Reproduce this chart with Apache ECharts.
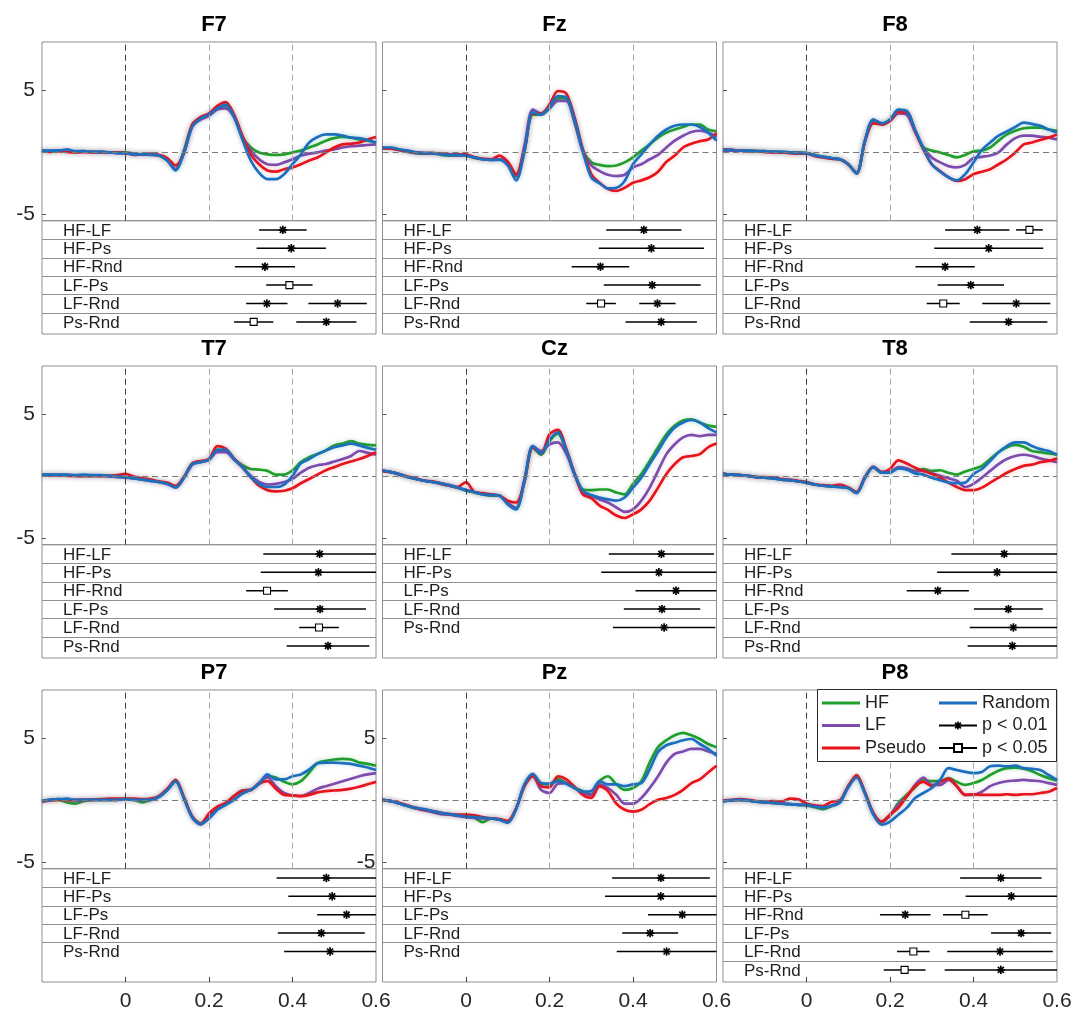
<!DOCTYPE html>
<html>
<head>
<meta charset="utf-8">
<script src="https://cdn.jsdelivr.net/npm/echarts@6/dist/echarts.min.js"></script>
<style>
  html, body { margin: 0; padding: 0; background: #fff; }
  #chart { width: 1077px; height: 1018px; }
</style>
</head>
<body>
<div id="chart"></div>
<script>
// Sample times (s)
const times = [-0.2, -0.18, -0.16, -0.14, -0.12, -0.1, -0.08, -0.06, -0.04, -0.02, 0,
  0.02, 0.04, 0.06, 0.08, 0.1, 0.12, 0.14, 0.16, 0.18, 0.2, 0.22, 0.24, 0.26, 0.28,
  0.3, 0.32, 0.34, 0.36, 0.38, 0.4, 0.42, 0.44, 0.46, 0.48, 0.5, 0.52, 0.54, 0.56, 0.58, 0.6];

// Grand-average ERPs (µV) per electrode and condition
const F7_HF  = [0.1,0.05,0.1,0.05,0,0.05,0,0,-0.05,-0.05,-0.05, -0.15,-0.2,-0.2,-0.3,-0.7,-1.4,0.1,2.2,2.7,3.0,3.5,3.7,2.9,1.2, 0.35,-0.05,-0.2,-0.25,-0.2,-0.05,0.1,0.35,0.6,0.9,1.1,1.2,1.15,1.0,0.9,0.75];
const F7_LF  = [0.05,0.05,0.1,0.05,0,0,0,-0.05,-0.05,-0.1,-0.1, -0.25,-0.2,-0.25,-0.3,-0.7,-1.4,0.0,2.1,2.6,2.9,3.4,3.5,2.8,1.2, 0.1,-0.6,-1.0,-1.05,-0.85,-0.6,-0.3,-0.15,-0.05,0.1,0.2,0.35,0.45,0.5,0.55,0.6];
const F7_Ps  = [0.1,0.0,0.05,0,-0.05,0,-0.05,0,-0.05,-0.05,-0.1, -0.2,-0.2,-0.15,-0.25,-0.5,-1.1,-0.1,2.2,2.8,3.1,3.7,4.0,3.0,1.3, -0.2,-1.0,-1.5,-1.6,-1.4,-1.25,-1.0,-0.7,-0.45,-0.05,0.35,0.6,0.65,0.75,1.0,1.2];
const F7_Rnd = [0.1,0.1,0.1,0.2,0.05,0.05,0,0,-0.05,-0.1,-0.1, -0.2,-0.2,-0.2,-0.3,-0.7,-1.5,-0.1,2.0,2.7,3.0,3.5,3.8,2.8,1.0, -0.7,-1.7,-2.2,-2.2,-1.8,-1.0,-0.2,0.75,1.2,1.4,1.4,1.3,1.15,1.1,0.95,0.75];

const Fz_HF  = [0.3,0.3,0.15,0.0,-0.1,-0.15,-0.1,-0.25,-0.3,-0.3,-0.3, -0.5,-0.6,-0.6,-0.6,-1.0,-2.0,0.3,3.0,3.0,3.5,4.3,4.3,2.4,0.1, -0.85,-1.05,-1.15,-1.1,-0.85,-0.45,0.1,0.6,1.15,1.55,1.8,2.0,2.2,2.2,1.8,1.65];
const Fz_LF  = [0.25,0.3,0.15,0.05,-0.1,-0.1,-0.15,-0.2,-0.25,-0.3,-0.25, -0.45,-0.6,-0.65,-0.6,-0.9,-1.9,0.5,3.4,3.1,3.5,4.1,4.1,2.4,0.0, -1.1,-1.55,-1.85,-1.95,-1.85,-1.25,-1.0,-0.6,-0.25,0.35,0.9,1.3,1.6,1.7,1.55,1.2];
const Fz_Ps  = [0.3,0.25,0.15,0.05,-0.05,-0.1,-0.1,-0.15,-0.2,-0.2,-0.2, -0.45,-0.55,-0.6,-0.3,-0.8,-1.8,0.1,3.1,3.1,3.8,4.9,4.7,2.8,0.2, -1.8,-2.5,-3.0,-3.15,-2.9,-2.5,-2.3,-2.05,-1.6,-0.8,-0.3,0.35,0.65,0.85,1.0,1.5];
const Fz_Rnd = [0.35,0.35,0.2,0.1,-0.05,-0.1,-0.1,-0.2,-0.25,-0.25,-0.3, -0.45,-0.6,-0.65,-0.65,-1.1,-2.3,0.0,3.2,3.0,3.6,4.5,4.4,2.6,0.0, -2.05,-2.55,-2.95,-2.9,-2.35,-1.0,-0.2,0.6,1.3,1.8,2.1,2.2,2.2,2.0,1.55,0.9];

const F8_HF  = [0.15,0.15,0.1,0.1,0.05,0.05,0,0,-0.05,-0.05,-0.1, -0.25,-0.4,-0.5,-0.6,-1.0,-1.7,0.9,2.5,2.2,2.6,3.3,3.2,1.7,0.35, 0.1,-0.05,-0.25,-0.45,-0.25,0.05,0.1,0.35,0.9,1.4,1.7,1.9,1.95,1.95,1.8,1.7];
const F8_LF  = [0.1,0.1,0.1,0.05,0.05,0,0,-0.05,-0.05,-0.1,-0.1, -0.3,-0.4,-0.55,-0.6,-1.0,-1.7,0.9,2.6,2.3,2.5,3.1,3.0,1.6,0.3, -0.45,-0.85,-1.15,-1.25,-1.05,-0.5,-0.4,-0.3,-0.05,0.6,1.1,1.3,1.3,1.2,1.15,1.0];
const F8_Ps  = [0.2,0.15,0.1,0.05,0.05,0,-0.05,-0.05,-0.1,-0.15,-0.15, -0.35,-0.45,-0.55,-0.6,-1.0,-1.75,0.8,2.3,2.2,2.5,3.2,3.2,1.7,0.2, -1.0,-1.55,-2.05,-2.35,-2.2,-1.8,-1.6,-1.4,-1.0,-0.6,-0.05,0.6,0.75,0.95,1.15,1.4];
const F8_Rnd = [0.15,0.15,0.1,0.1,0.05,0.05,0,0,-0.05,-0.1,-0.1, -0.3,-0.4,-0.5,-0.6,-1.0,-1.75,0.9,2.6,2.3,2.6,3.4,3.3,1.8,0.3, -1.0,-1.6,-2.05,-2.3,-1.8,-0.85,0.15,0.75,1.3,1.65,2.0,2.35,2.25,2.1,1.8,1.55];

const T7_HF  = [0.1,0.05,0.05,0.05,0,0,0,0,0,-0.05,-0.1, -0.2,-0.25,-0.35,-0.5,-0.6,-0.85,-0.1,1.0,1.15,1.3,2.1,2.1,1.35,0.85, 0.55,0.5,0.4,0.1,0.1,0.45,1.1,1.5,1.75,2.05,2.45,2.6,2.8,2.6,2.5,2.45];
const T7_LF  = [0.1,0.05,0.05,0.05,0,0,0,0,-0.05,-0.1,-0.15, -0.2,-0.3,-0.4,-0.5,-0.65,-0.95,-0.15,0.9,1.1,1.3,1.9,1.9,1.3,0.7, 0.0,-0.5,-0.7,-0.65,-0.5,-0.25,0.25,0.65,0.85,0.95,1.15,1.35,1.6,2.0,1.85,1.7];
const T7_Ps  = [0.05,0.05,0.05,0,0,0,0,0,0,0.05,0.15, -0.05,-0.2,-0.3,-0.45,-0.55,-0.8,-0.1,1.0,1.2,1.35,2.4,2.2,1.4,0.7, -0.1,-0.8,-1.15,-1.25,-1.2,-1.0,-0.6,-0.25,0.1,0.45,0.7,0.95,1.15,1.35,1.6,1.9];
const T7_Rnd = [0.1,0.1,0.1,0.1,0.05,0.1,0.05,0.05,0,-0.05,-0.1, -0.2,-0.3,-0.4,-0.5,-0.65,-0.95,-0.15,0.95,1.1,1.3,2.1,2.1,1.35,0.7, -0.1,-0.65,-0.9,-0.9,-0.7,0.0,1.0,1.35,1.75,2.05,2.3,2.45,2.6,2.45,2.25,2.1];

const Cz_HF  = [0.4,0.3,0.1,-0.1,-0.25,-0.4,-0.5,-0.65,-0.8,-0.95,-1.2, -1.35,-1.5,-1.6,-1.6,-2.2,-2.6,-0.4,2.3,1.7,2.8,3.4,2.0,0.15,-1.1, -1.15,-1.1,-1.1,-1.35,-1.5,-0.65,0.15,1.2,2.3,3.35,4.05,4.45,4.55,4.3,4.05,3.95];
const Cz_LF  = [0.4,0.3,0.1,-0.1,-0.25,-0.4,-0.5,-0.65,-0.8,-0.95,-1.15, -1.3,-1.45,-1.5,-1.6,-2.2,-2.6,-0.3,2.4,2.0,2.55,2.7,1.8,0.1,-1.35, -1.6,-1.9,-2.15,-2.55,-2.9,-2.7,-2.0,-0.95,0.4,1.75,2.55,3.1,3.3,3.2,3.3,3.3];
const Cz_Ps  = [0.4,0.3,0.15,-0.05,-0.2,-0.4,-0.45,-0.6,-0.75,-0.9,-0.5, -1.3,-1.4,-1.5,-1.6,-2.0,-2.15,-0.5,2.3,1.8,3.35,3.7,2.2,0.2,-1.5, -1.8,-2.4,-2.75,-3.2,-3.4,-3.1,-2.7,-2.0,-0.95,0.15,0.95,1.5,1.6,1.75,2.3,2.6];
const Cz_Rnd = [0.45,0.3,0.15,-0.1,-0.25,-0.4,-0.5,-0.6,-0.75,-0.95,-1.15, -1.3,-1.5,-1.55,-1.6,-2.3,-2.7,-0.4,2.4,1.8,2.9,3.5,2.1,0.15,-1.2, -1.55,-1.75,-1.9,-2.0,-1.75,-0.95,-0.15,0.95,2.0,3.1,3.9,4.3,4.5,4.3,3.85,3.5];

const T8_HF  = [0.15,0.1,0.05,0,-0.1,-0.15,-0.2,-0.3,-0.35,-0.45,-0.55, -0.7,-0.8,-0.85,-0.9,-0.95,-1.35,-0.15,0.7,0.25,0.25,0.65,0.55,0.4,0.55, 0.4,0.45,0.25,0.1,0.35,0.55,0.8,1.35,1.9,2.3,2.5,2.35,2.0,1.9,1.8,1.7];
const T8_LF  = [0.15,0.1,0.05,0,-0.1,-0.15,-0.2,-0.3,-0.35,-0.45,-0.55, -0.7,-0.8,-0.85,-0.9,-0.95,-1.35,-0.15,0.75,0.3,0.3,0.7,0.6,0.35,0.4, 0.2,0.0,-0.2,-0.4,-0.9,-0.65,-0.15,0.4,0.95,1.35,1.6,1.7,1.6,1.4,1.25,1.1];
const T8_Ps  = [0.15,0.1,0.05,0,-0.1,-0.1,-0.15,-0.25,-0.3,-0.4,-0.5, -0.7,-0.75,-0.8,-0.7,-0.95,-1.3,-0.1,0.7,0.3,0.55,1.25,1.0,0.65,0.4, 0.15,-0.15,-0.55,-0.9,-1.15,-1.15,-0.95,-0.55,-0.15,0.25,0.55,0.8,0.9,1.1,1.2,1.4];
const T8_Rnd = [0.15,0.1,0.05,0,-0.1,-0.15,-0.2,-0.3,-0.35,-0.45,-0.55, -0.7,-0.8,-0.85,-0.9,-1.0,-1.4,-0.15,0.7,0.25,0.25,0.6,0.5,0.2,0.1, -0.15,-0.35,-0.55,-0.6,-0.55,0.15,0.55,1.2,1.9,2.4,2.7,2.7,2.4,2.15,2.0,1.7];

const P7_HF  = [-0.1,0,0,-0.2,-0.3,-0.1,0,0,0,0,0.05, 0,-0.2,0,0.25,0.8,1.5,0.15,-1.4,-1.9,-1.35,-0.7,-0.3,0.3,0.75, 0.8,1.35,1.9,1.8,1.45,1.25,1.5,2.2,2.95,3.15,3.25,3.3,3.25,3.0,2.9,2.75];
const P7_LF  = [-0.1,0,0.05,0,-0.05,0,0,0,0,0,0.05, 0,0,0,0.25,0.8,1.5,0.15,-1.45,-2.0,-1.4,-0.7,-0.3,0.3,0.75, 0.8,1.35,1.8,1.1,0.55,0.35,0.3,0.55,0.9,1.1,1.3,1.5,1.7,1.9,2.05,2.15];
const P7_Ps  = [-0.15,-0.05,0,0,0,0,0,0.05,0.1,0.1,0.1, 0.1,0.05,0.1,0.3,0.9,1.6,0.2,-1.35,-1.9,-1.1,-0.55,-0.25,0.3,0.7, 0.8,1.3,1.5,0.9,0.4,0.35,0.3,0.4,0.6,0.7,0.75,0.8,0.9,1.05,1.25,1.45];
const P7_Rnd = [-0.1,0,0.05,0.1,0,0,0,0,0,0,0.05, 0,0,0,0.25,0.8,1.5,0.1,-1.4,-1.95,-1.5,-0.8,-0.4,0.0,0.5, 0.8,1.3,2.05,1.65,1.65,1.9,2.05,2.45,2.95,3.0,3.0,2.95,2.9,2.75,2.6,2.4];

const Pz_HF  = [0,-0.1,-0.3,-0.5,-0.7,-0.8,-0.95,-1.1,-1.15,-1.25,-1.35, -1.45,-1.8,-1.5,-1.6,-1.75,-0.7,1.2,2.0,1.3,1.25,1.7,1.35,0.95,0.7, 0.4,1.5,1.9,1.25,0.8,0.95,1.5,3.0,4.25,4.8,5.2,5.4,5.2,4.9,4.5,4.25];
const Pz_LF  = [0,-0.1,-0.3,-0.5,-0.7,-0.85,-1.0,-1.15,-1.2,-1.3,-1.4, -1.45,-1.5,-1.5,-1.6,-1.8,-0.7,1.1,1.9,0.8,0.55,1.3,1.35,0.95,0.6, 0.4,1.25,0.95,0.4,-0.3,-0.3,0.15,0.95,1.9,3.0,3.7,3.9,4.1,4.1,3.9,3.7];
const Pz_Ps  = [0,-0.1,-0.25,-0.45,-0.65,-0.8,-0.9,-1.05,-1.15,-1.2,-1.2, -1.25,-1.4,-1.5,-1.55,-1.7,-0.7,1.1,1.9,1.1,1.0,1.9,1.65,1.05,0.4, 0.15,1.1,0.7,-0.3,-0.8,-0.95,-0.8,-0.35,0.0,0.15,0.4,0.8,1.35,1.65,2.2,2.75];
const Pz_Rnd = [0,-0.1,-0.3,-0.5,-0.65,-0.75,-0.9,-1.05,-1.15,-1.25,-1.35, -1.4,-1.45,-1.5,-1.6,-1.85,-0.75,1.25,2.1,1.35,1.3,1.5,1.3,0.95,0.65, 0.7,1.5,1.25,1.25,1.1,1.25,1.35,2.45,3.85,4.4,4.6,4.8,4.9,4.5,4.1,3.55];

const P8_HF  = [-0.1,-0.05,0,-0.05,-0.15,-0.2,-0.25,-0.3,-0.35,-0.4,-0.45, -0.6,-0.75,-0.5,-0.2,1.1,1.9,0.55,-1.1,-1.8,-1.25,-0.25,0.4,1.0,1.6, 1.5,1.5,1.75,1.45,1.2,1.35,1.6,2.0,2.35,2.55,2.6,2.5,2.3,2.0,1.75,1.55];
const P8_LF  = [-0.1,-0.05,0,-0.05,-0.15,-0.2,-0.25,-0.3,-0.35,-0.4,-0.4, -0.5,-0.6,-0.45,-0.15,1.1,1.9,0.55,-1.1,-1.8,-1.25,-0.4,0.25,1.2,1.8, 1.2,1.2,1.6,1.1,0.4,0.4,0.65,1.1,1.35,1.5,1.55,1.6,1.55,1.5,1.35,1.2];
const P8_Ps  = [-0.05,0,0.05,0,-0.1,-0.15,-0.1,-0.15,0.1,0.05,-0.3, -0.45,-0.5,-0.15,-0.05,1.1,2.0,0.6,-1.05,-1.75,-1.2,-0.65,0.25,1.1,1.45, 1.1,1.45,1.7,1.1,0.4,0.45,0.4,0.4,0.4,0.45,0.4,0.45,0.45,0.55,0.65,0.95];
const P8_Rnd = [-0.1,-0.05,0,-0.05,-0.15,-0.2,-0.25,-0.3,-0.35,-0.4,-0.4, -0.55,-0.6,-0.5,-0.2,1.0,1.8,0.5,-1.2,-2.0,-1.75,-1.2,-0.65,0.15,0.55, 0.95,1.6,2.55,2.4,2.25,2.15,2.25,2.7,2.75,2.7,2.75,2.55,2.5,2.4,2.0,1.6];

// Pairwise contrasts shown under each electrode
const rows6 = ['HF-LF', 'HF-Ps', 'HF-Rnd', 'LF-Ps', 'LF-Rnd', 'Ps-Rnd'];
const rows5 = ['HF-LF', 'HF-Ps', 'LF-Ps', 'LF-Rnd', 'Ps-Rnd'];

// Significant windows: [row, start (s), end (s), level]; level 1 = p < 0.01, 2 = p < 0.05
const P01 = 1, P05 = 2;
const F7_segs = [[0,0.320,0.434,P01],[1,0.314,0.480,P01],[2,0.262,0.406,P01],[3,0.337,0.448,P05],[4,0.289,0.388,P01],[4,0.438,0.578,P01],[5,0.260,0.354,P05],[5,0.409,0.553,P01]];
const Fz_segs = [[0,0.336,0.516,P01],[1,0.318,0.570,P01],[2,0.253,0.391,P01],[3,0.330,0.562,P01],[4,0.288,0.359,P05],[4,0.415,0.502,P01],[5,0.382,0.553,P01]];
const F8_segs = [[0,0.332,0.486,P01],[0,0.502,0.566,P05],[1,0.306,0.567,P01],[2,0.261,0.403,P01],[3,0.314,0.473,P01],[4,0.288,0.367,P05],[4,0.421,0.584,P01],[5,0.391,0.577,P01]];
const T7_segs = [[0,0.330,0.600,P01],[1,0.324,0.600,P01],[2,0.289,0.389,P05],[3,0.356,0.576,P01],[4,0.416,0.511,P05],[5,0.386,0.584,P01]];
const Cz_segs = [[0,0.342,0.594,P01],[1,0.324,0.600,P01],[2,0.406,0.600,P01],[3,0.378,0.561,P01],[4,0.352,0.597,P01]];
const T8_segs = [[0,0.347,0.600,P01],[1,0.313,0.600,P01],[2,0.240,0.389,P01],[3,0.401,0.566,P01],[4,0.391,0.600,P01],[5,0.386,0.600,P01]];
const P7_segs = [[0,0.362,0.600,P01],[1,0.390,0.600,P01],[2,0.459,0.600,P01],[3,0.365,0.573,P01],[4,0.380,0.600,P01]];
const Pz_segs = [[0,0.350,0.584,P01],[1,0.333,0.600,P01],[2,0.436,0.600,P01],[3,0.374,0.508,P01],[4,0.361,0.600,P01]];
const P8_segs = [[0,0.368,0.563,P01],[1,0.381,0.600,P01],[2,0.176,0.297,P01],[2,0.327,0.434,P05],[3,0.442,0.586,P01],[4,0.217,0.295,P05],[4,0.337,0.590,P01],[5,0.185,0.285,P05],[5,0.331,0.600,P01]];

const conditions = ['HF', 'LF', 'Pseudo', 'Random'];
const panels = [
  { name: 'F7', curves: [F7_HF, F7_LF, F7_Ps, F7_Rnd], rows: rows6, segs: F7_segs },
  { name: 'Fz', curves: [Fz_HF, Fz_LF, Fz_Ps, Fz_Rnd], rows: rows6, segs: Fz_segs },
  { name: 'F8', curves: [F8_HF, F8_LF, F8_Ps, F8_Rnd], rows: rows6, segs: F8_segs },
  { name: 'T7', curves: [T7_HF, T7_LF, T7_Ps, T7_Rnd], rows: rows6, segs: T7_segs },
  { name: 'Cz', curves: [Cz_HF, Cz_LF, Cz_Ps, Cz_Rnd], rows: rows5, segs: Cz_segs },
  { name: 'T8', curves: [T8_HF, T8_LF, T8_Ps, T8_Rnd], rows: rows6, segs: T8_segs },
  { name: 'P7', curves: [P7_HF, P7_LF, P7_Ps, P7_Rnd], rows: rows5, segs: P7_segs },
  { name: 'Pz', curves: [Pz_HF, Pz_LF, Pz_Ps, Pz_Rnd], rows: rows5, segs: Pz_segs },
  { name: 'P8', curves: [P8_HF, P8_LF, P8_Ps, P8_Rnd], rows: rows6, segs: P8_segs }
];

// ---- styling and layout ----
const FONT = '"Liberation Sans", Arial, Helvetica, sans-serif';
const COLORS = { HF: '#20a02a', LF: '#7d4cae', Pseudo: '#e8141c', Random: '#1c6fbf' };
const HALO = { HF: 'rgba(32,160,42,0.22)', LF: 'rgba(125,76,174,0.22)', Pseudo: 'rgba(232,20,28,0.22)', Random: 'rgba(28,111,191,0.25)' };
const BOX = '#8f8f8f';
const TXT = '#1f1f1f';
const COL_LEFT = [42, 382.5, 723];
const ROW_TOP = [42, 366, 690];
const W = 334, ERP_H = 178.7, TAB_H = 113.3, ROW_H = 18.4;
const Y_MIN = -5.55, Y_MAX = 8.85;
const LINE_ICON = 'path://M0,0L38,0L38,2.8L0,2.8Z';
const STAR_PATH = 'path://M-0.2,-1L0.2,-1L0.2,1L-0.2,1ZM-1,-0.2L1,-0.2L1,0.2L-1,0.2ZM-0.566,-0.849L0.849,0.566L0.566,0.849L-0.849,-0.566ZM-0.849,0.566L0.566,-0.849L0.849,-0.566L-0.566,0.849Z';

const option = {
  animation: false,
  backgroundColor: '#fff',
  textStyle: { fontFamily: FONT },
  title: [], grid: [], xAxis: [], yAxis: [], series: [],
  legend: [
    {
      data: [{ name: 'HF', icon: LINE_ICON }, { name: 'LF', icon: LINE_ICON }, { name: 'Pseudo', icon: LINE_ICON }],
      orient: 'vertical', left: 822, top: 693, padding: 0,
      itemWidth: 38, itemHeight: 10, itemGap: 2.5, selectedMode: false, z: 20,
      textStyle: { fontSize: 18, lineHeight: 20, color: TXT, fontFamily: FONT }
    },
    {
      data: [{ name: 'Random', icon: LINE_ICON }, 'p < 0.01', 'p < 0.05'],
      orient: 'vertical', left: 938, top: 693, padding: 0,
      itemWidth: 38, itemHeight: 10, itemGap: 2.5, selectedMode: false, z: 20,
      textStyle: { fontSize: 18, lineHeight: 20, color: TXT, fontFamily: FONT }
    }
  ],
  graphic: [
    { type: 'rect', left: 817, top: 689, z: 15, shape: { width: 239, height: 72 },
      style: { fill: '#fff', stroke: '#2a2a2a', lineWidth: 1 } }
  ]
};

panels.forEach((p, i) => {
  const col = i % 3, row = Math.floor(i / 3);
  const left = COL_LEFT[col], top = ROW_TOP[row];
  const gE = i * 2, gT = i * 2 + 1;
  const bottomRow = row === 2;

  option.title.push({
    text: p.name, left: left + W / 2, top: top - 33.5, textAlign: 'center',
    textStyle: { fontSize: 22, fontWeight: 'bold', color: '#000', fontFamily: FONT }
  });

  option.grid.push({ left: left, top: top, width: W, height: ERP_H, show: true, borderColor: BOX, borderWidth: 1 });
  option.grid.push({ left: left, top: top + ERP_H, width: W, height: TAB_H, show: true, borderColor: BOX, borderWidth: 1 });

  option.xAxis.push({
    gridIndex: gE, type: 'value', min: -0.2, max: 0.6, show: false
  });
  option.xAxis.push({
    gridIndex: gT, type: 'value', min: -0.2, max: 0.6, show: bottomRow, position: 'bottom',
    axisLine: { show: false, onZero: false }, splitLine: { show: false },
    axisTick: { show: bottomRow, inside: true, length: 5, customValues: [0, 0.2, 0.4], lineStyle: { color: '#444' } },
    axisLabel: { show: bottomRow, customValues: [0, 0.2, 0.4, 0.6], margin: 9, fontSize: 21, color: '#262626', fontFamily: FONT }
  });

  const showY = col === 0 || p.name === 'Pz';
  option.yAxis.push({
    gridIndex: gE, type: 'value', min: Y_MIN, max: Y_MAX, position: 'left',
    axisLine: { show: false, onZero: false }, splitLine: { show: false },
    axisTick: { show: true, inside: true, length: 4, customValues: [-5, 5], lineStyle: { color: '#555' } },
    axisLabel: { show: showY, customValues: [-5, 5], fontSize: 21, margin: 7, color: '#262626', fontFamily: FONT }
  });
  option.yAxis.push({
    gridIndex: gT, type: 'value', min: 0, max: TAB_H / ROW_H, inverse: true, show: false
  });

  // reference lines: stimulus onset, 200/400 ms, and zero
  option.series.push({
    type: 'line', xAxisIndex: gE, yAxisIndex: gE, data: [], silent: true, z: 1,
    markLine: {
      silent: true, symbol: ['none', 'none'], label: { show: false }, animation: false,
      data: [
        { xAxis: 0, lineStyle: { color: '#3c3c3c', type: [6, 4], width: 1 } },
        { xAxis: 0.2, lineStyle: { color: '#a8a8a8', type: [6, 4], width: 1 } },
        { xAxis: 0.4, lineStyle: { color: '#a8a8a8', type: [6, 4], width: 1 } },
        { yAxis: 0, lineStyle: { color: '#7a7a7a', type: [6, 4], width: 1 } }
      ]
    }
  });

  // ERP curves
  conditions.forEach((c, k) => {
    option.series.push({
      name: c, type: 'line', xAxisIndex: gE, yAxisIndex: gE, silent: true, z: 3,
      data: times.map((t, j) => [t, p.curves[k][j]]),
      symbol: 'none', showSymbol: false, smooth: 0.3,
      itemStyle: { color: COLORS[c] },
      lineStyle: { width: 2.7, color: COLORS[c], shadowBlur: 5, shadowColor: HALO[c] }
    });
  });

  // contrast labels and row rules
  option.series.push({
    type: 'custom', xAxisIndex: gT, yAxisIndex: gT, silent: true, z: 3,
    data: p.rows.map((_, r) => [r]),
    renderItem: (params, api) => {
      const r = api.value(0);
      const pt = api.coord([-0.2, r + 0.5]);
      const children = [{
        type: 'text', x: pt[0] + 21, y: pt[1] + 1,
        style: { text: p.rows[r], fill: TXT, fontSize: 17, fontFamily: FONT, align: 'left', verticalAlign: 'middle' }
      }];
      if (r > 0) {
        const a = api.coord([-0.2, r]), b = api.coord([0.6, r]);
        const y = Math.round(a[1]) + 0.5;
        children.push({ type: 'line', shape: { x1: a[0], y1: y, x2: b[0], y2: y }, style: { stroke: BOX, lineWidth: 1 } });
      }
      return { type: 'group', children: children };
    }
  });

  // significant windows
  option.series.push({
    type: 'custom', xAxisIndex: gT, yAxisIndex: gT, silent: true, z: 4,
    data: p.segs,
    renderItem: (params, api) => {
      const r = api.value(0), t0 = api.value(1), t1 = api.value(2), lvl = api.value(3);
      const y = r + 0.5;
      const a = api.coord([t0, y]), b = api.coord([t1, y]);
      const m = api.coord([(t0 + t1) / 2, y]);
      const children = [{ type: 'line', shape: { x1: a[0], y1: a[1], x2: b[0], y2: b[1] }, style: { stroke: '#000', lineWidth: 1.5 } }];
      if (lvl === P01) {
        const s = 4.2, d = 3.0;
        [[s, 0], [0, s], [d, d], [d, -d]].forEach(v => {
          children.push({ type: 'line', shape: { x1: m[0] - v[0], y1: m[1] - v[1], x2: m[0] + v[0], y2: m[1] + v[1] },
            style: { stroke: '#000', lineWidth: 1.7 } });
        });
      } else {
        children.push({ type: 'rect', shape: { x: m[0] - 3.5, y: m[1] - 3.5, width: 7, height: 7 },
          style: { fill: '#fff', stroke: '#000', lineWidth: 1.1 } });
      }
      return { type: 'group', children: children };
    }
  });
});

// legend entries for the significance markers
option.series.push({
  name: 'p < 0.01', type: 'line', xAxisIndex: 17, yAxisIndex: 17, data: [],
  symbol: STAR_PATH, symbolSize: 9,
  lineStyle: { color: '#000', width: 1.5 }, itemStyle: { color: '#000' }
});
option.series.push({
  name: 'p < 0.05', type: 'line', xAxisIndex: 17, yAxisIndex: 17, data: [],
  symbol: 'rect', symbolSize: 7,
  lineStyle: { color: '#000', width: 1.5 }, itemStyle: { color: '#fff', borderColor: '#000', borderWidth: 1 }
});

const chart = echarts.init(document.getElementById('chart'), null, { renderer: 'canvas' });
chart.setOption(option);
</script>
</body>
</html>
